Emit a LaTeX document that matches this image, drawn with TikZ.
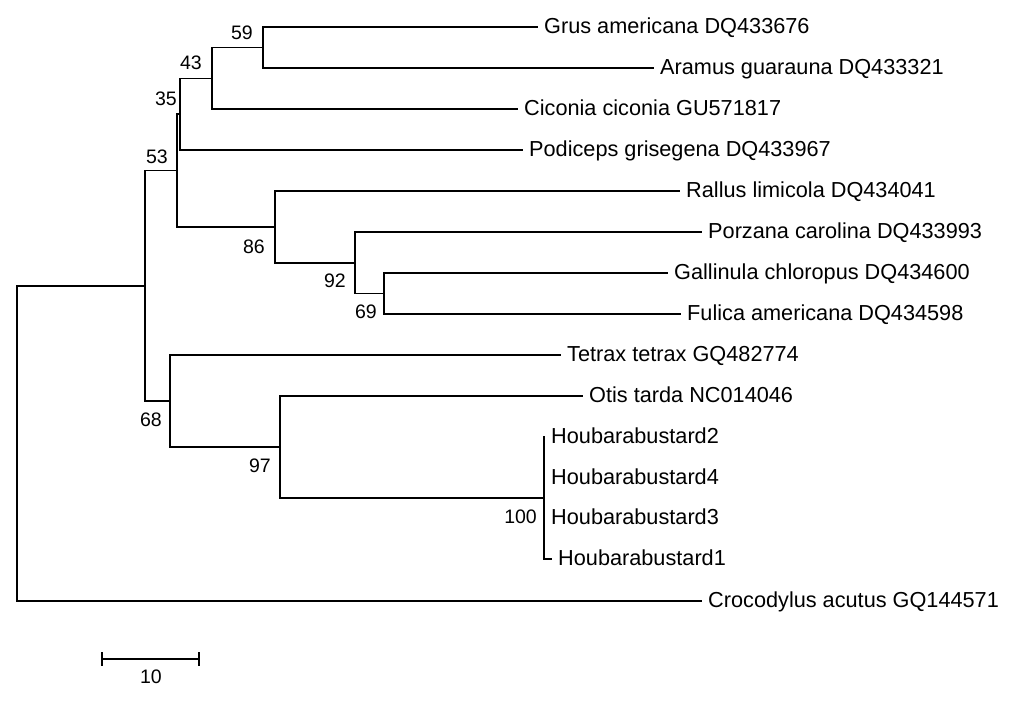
\documentclass[tikz,border=0pt]{standalone}
\usepackage{fontspec}
\setmainfont{Liberation Sans}
\begin{document}
\begin{tikzpicture}[x=1pt,y=-1pt,
  branch/.style={line width=1.7pt,line cap=rect},
  leaf/.style={anchor=base west,xshift=7pt,yshift=-6.5pt,inner sep=0pt,font=\fontsize{21.7}{24}\selectfont},
  boot/.style={anchor=base east,inner sep=0pt,font=\fontsize{19.5}{22}\selectfont}]
\fill[white] (0,0) rectangle (1024,702);
\useasboundingbox (0,0) rectangle (1024,702);
% internal nodes
\coordinate (R) at (17,443.5);
\coordinate (I) at (145,286);
\coordinate (n53) at (177,170.5);
\coordinate (n35) at (180,114);
\coordinate (n43) at (212,78.5);
\coordinate (n59) at (263,47.5);
\coordinate (n86) at (275,227);
\coordinate (n92) at (355,263);
\coordinate (n69) at (384,293.5);
\coordinate (n68) at (170,401);
\coordinate (n97) at (280,447);
\coordinate (n100) at (544,498);
% leaf ends
\coordinate (Grus) at (537,27);
\coordinate (Aramus) at (653,68);
\coordinate (Ciconia) at (517,109);
\coordinate (Podiceps) at (522,150);
\coordinate (Rallus) at (679,191);
\coordinate (Porzana) at (701,232);
\coordinate (Gallinula) at (667,273);
\coordinate (Fulica) at (680,314);
\coordinate (Tetrax) at (560,355);
\coordinate (Otis) at (582,396);
\coordinate (H2) at (544,437);
\coordinate (H4) at (544,478);
\coordinate (H3) at (544,518);
\coordinate (H1) at (551,559);
\coordinate (Croc) at (701,601);
% branches
\draw[branch] (R) |- (I);
\draw[branch] (R) |- (Croc);
\draw[branch] (I) |- (n53);
\draw[branch] (I) |- (n68);
\draw[branch] (n53) |- (n35);
\draw[branch] (n53) |- (n86);
\draw[branch] (n35) |- (n43);
\draw[branch] (n35) |- (Podiceps);
\draw[branch] (n43) |- (n59);
\draw[branch] (n43) |- (Ciconia);
\draw[branch] (n59) |- (Grus);
\draw[branch] (n59) |- (Aramus);
\draw[branch] (n86) |- (Rallus);
\draw[branch] (n86) |- (n92);
\draw[branch] (n92) |- (Porzana);
\draw[branch] (n92) |- (n69);
\draw[branch] (n69) |- (Gallinula);
\draw[branch] (n69) |- (Fulica);
\draw[branch] (n68) |- (Tetrax);
\draw[branch] (n68) |- (n97);
\draw[branch] (n97) |- (Otis);
\draw[branch] (n97) |- (n100);
\draw[branch] (n100) |- (H2);
\draw[branch] (n100) |- (H4);
\draw[branch] (n100) |- (H3);
\draw[branch] (n100) |- (H1);
% leaf labels
\node[leaf] (tGrus) at (Grus) {Grus americana DQ433676};
\node[leaf] (tAramus) at (Aramus) {Aramus guarauna DQ433321};
\node[leaf] (tCiconia) at (Ciconia) {Ciconia ciconia GU571817};
\node[leaf] (tPodiceps) at (Podiceps) {Podiceps grisegena DQ433967};
\node[leaf] (tRallus) at (Rallus) {Rallus limicola DQ434041};
\node[leaf] (tPorzana) at (Porzana) {Porzana carolina DQ433993};
\node[leaf] (tGallinula) at (Gallinula) {Gallinula chloropus DQ434600};
\node[leaf] (tFulica) at (Fulica) {Fulica americana DQ434598};
\node[leaf] (tTetrax) at (Tetrax) {Tetrax tetrax GQ482774};
\node[leaf] (tOtis) at (Otis) {Otis tarda NC014046};
\node[leaf] (tH2) at (H2) {Houbarabustard2};
\node[leaf] (tH4) at (H4) {Houbarabustard4};
\node[leaf] (tH3) at (H3) {Houbarabustard3};
\node[leaf] (tH1) at (H1) {Houbarabustard1};
\node[leaf] (tCroc) at (Croc) {Crocodylus acutus GQ144571};
% bootstrap values
\node[boot] (b59) at (253,39) {59};
\node[boot] (b43) at (202,69) {43};
\node[boot] (b35) at (177,105) {35};
\node[boot] (b53) at (168,163) {53};
\node[boot] (b86) at (265,253) {86};
\node[boot] (b92) at (346,287) {92};
\node[boot] (b69) at (377,318) {69};
\node[boot] (b68) at (162,426) {68};
\node[boot] (b97) at (271,472) {97};
\node[boot] (b100) at (537,523) {100};
% scale bar
\coordinate (sb1) at (102,659);
\coordinate (sb2) at (199,659);
\draw[line width=1.7pt] (sb1) -- (sb2);
\draw[line width=1.7pt] ([yshift=7pt]sb1) -- ([yshift=-7pt]sb1);
\draw[line width=1.7pt] ([yshift=7pt]sb2) -- ([yshift=-7pt]sb2);
\node[inner sep=0pt,anchor=base,font=\fontsize{19.5}{22}\selectfont] (sbl) at (151,683) {10};
\end{tikzpicture}
\end{document}
